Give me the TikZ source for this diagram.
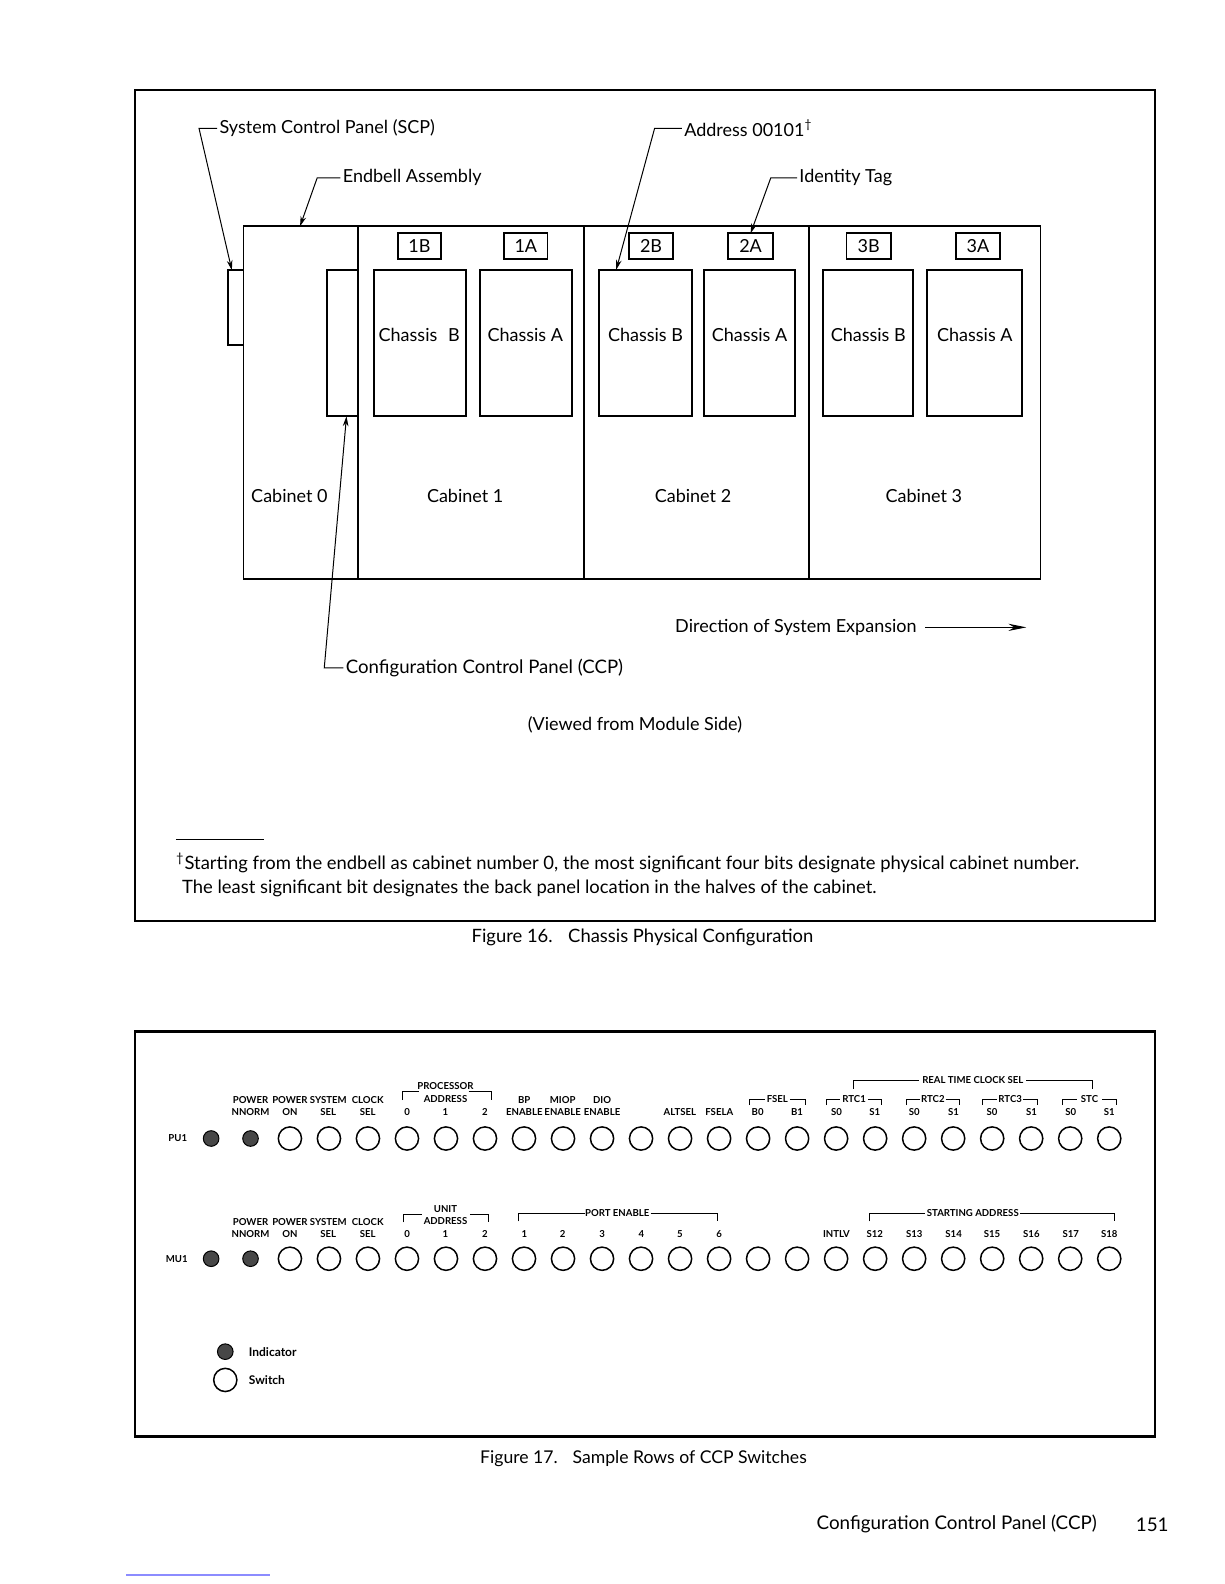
\documentclass[tikz,border=0pt]{standalone}
\usepackage{fontspec}
\setmainfont{Lato}
\usetikzlibrary{arrows.meta,calc,fit}
\begin{document}
\begin{tikzpicture}[x=0.505pt,y=-0.505pt,
  frame/.style={draw,line width=1.1pt},
  cab/.style={draw,line width=0.9pt,inner sep=0pt,outer sep=0pt},
  lead/.style={line width=0.5pt},
  tipa/.style={-{Stealth[length=5pt,width=2.8pt]}},
  lbl/.style={font=\fontsize{9}{10}\selectfont,inner sep=0pt},
  tag/.style={font=\fontsize{9}{10}\selectfont,inner sep=0pt},
  foot/.style={font=\fontsize{9.2}{10}\selectfont,inner sep=0pt,anchor=base west},
  captext/.style={font=\fontsize{9.2}{11}\selectfont,inner sep=0pt},
  tiny/.style={font=\fontsize{4.8}{5}\selectfont\bfseries,inner sep=0pt},
  legend/.style={font=\fontsize{6}{7}\selectfont\bfseries,inner sep=0pt,anchor=west},
  sw/.style={circle,draw,line width=0.75pt,minimum size=11.6pt,inner sep=0pt},
  ind/.style={circle,draw,fill=black!72,line width=0.5pt,minimum size=7.8pt,inner sep=0pt},
  brk/.style={line width=0.45pt}
]
\useasboundingbox (0,0) rectangle (1212,1568);
\fill[white] (0,0) rectangle (1212,1568);

% ================= Figure 16 =================
\draw[frame] (134,89) rectangle (1143,912);

% cabinets
\node[cab,fit={(241,224) (354,573)}] (cab0) {};
\node[cab,fit={(354,224) (578,573)}] (cab1) {};
\node[cab,fit={(578,224) (801,573)}] (cab2) {};
\node[cab,fit={(801,224) (1030,573)}] (cab3) {};
% SCP and CCP boxes
\node[cab,fit={(225.5,267.5) (241,341.5)}] (scp) {};
\node[cab,fit={(324,267.5) (354,412)}] (ccp) {};
% chassis
\node[cab,fit={(370,267) (461,412)}] (ch1b) {};
\node[cab,fit={(475,267) (566.5,412)}] (ch1a) {};
\node[cab,fit={(593,267) (685,412)}] (ch2b) {};
\node[cab,fit={(697,267) (787,412)}] (ch2a) {};
\node[cab,fit={(815,267) (904,412)}] (ch3b) {};
\node[cab,fit={(918,267) (1012,412)}] (ch3a) {};
% tags
\node[cab,fit={(394,231) (436.5,256.5)}] (t1b) {};
\node[cab,fit={(499,231) (542,256.5)}] (t1a) {};
\node[cab,fit={(623,231) (666,256.5)}] (t2b) {};
\node[cab,fit={(721,231) (765,256.5)}] (t2a) {};
\node[cab,fit={(838,231) (882,256.5)}] (t3b) {};
\node[cab,fit={(946,231) (990,256.5)}] (t3a) {};
\node[tag] at (t1b) {1B};
\node[tag] at (t1a) {1A};
\node[tag] at (t2b) {2B};
\node[tag] at (t2a) {2A};
\node[tag] at (t3b) {3B};
\node[tag] at (t3a) {3A};

\node[lbl] (lch1b) at (415,332) {Chassis\hspace{0.6em}B};
\node[lbl] (lch1a) at (520,332) {Chassis A};
\node[lbl] (lch2b) at (639,332) {Chassis B};
\node[lbl] (lch2a) at (742,332) {Chassis A};
\node[lbl] (lch3b) at (859.5,332) {Chassis B};
\node[lbl] (lch3a) at (965,332) {Chassis A};

\node[lbl] (lcab0) at (286.5,491) {Cabinet 0};
\node[lbl] (lcab1) at (460.5,491) {Cabinet 1};
\node[lbl] (lcab2) at (686,491) {Cabinet 2};
\node[lbl] (lcab3) at (914.5,491) {Cabinet 3};

% leaders
\node[lbl,anchor=west] (lscp) at (217,127) {System Control Panel (SCP)};
\coordinate (cscp) at (197,127);
\draw[lead,tipa] ($(lscp.west)+(-2,0)$) -- (cscp) -- ($(scp.north west)+(4,0)$);

\node[lbl,anchor=west] (lend) at (339,176) {Endbell Assembly};
\coordinate (cend) at (314,176);
\draw[lead,tipa] ($(lend.west)+(-2,0)$) -- (cend) -- (297,224);

\node[lbl,anchor=west] (ladr) at (677,127) {Address 00101\textsuperscript{†}};
\coordinate (cadr) at (648,127);
\draw[lead,tipa] ($(ladr.west)+(-2,0)$) -- (cadr) -- ($(ch2b.north west)+(17,0)$);

\node[lbl,anchor=west] (lid) at (791,176) {Identity Tag};
\coordinate (cid) at (763,176);
\draw[lead,tipa] ($(lid.west)+(-2,0)$) -- (cid) -- (t2a.north);

\node[lbl,anchor=west,font=\fontsize{9.3}{10}\selectfont] (lccp) at (342,661) {Configuration Control Panel (CCP)};
\coordinate (cccp) at (321,661);
\draw[lead,tipa] ($(lccp.west)+(-2,0)$) -- (cccp) -- ($(ccp.south east)+(-11,0)$);

\node[lbl,anchor=west] (ldir) at (668,621) {Direction of System Expansion};
\coordinate (dirend) at (1016,621);
\draw[lead,-{Stealth[length=9pt,width=3.6pt]}] ($(ldir.east)+(8,0)$) -- (dirend);

\node[lbl] (lview) at (628.5,718) {(Viewed from Module Side)};

% footnote
\draw[line width=0.5pt] (174,831) -- (261,831);
\node[foot] (fn1) at (174,861) {\textsuperscript{†}Starting from the endbell as cabinet number 0, the most significant four bits designate physical cabinet number.};
\node[foot] (fn2) at (180,884) {The least significant bit designates the back panel location in the halves of the cabinet.};

\node[captext] (cap16) at (636,928) {Figure 16.\hspace{0.5em} Chassis Physical Configuration};

% ================= Figure 17 =================
\draw[frame] (134,1021) rectangle (1143,1422);

\node[tiny] (pu1) at (176,1127) {PU1};
\node[tiny] (mu1) at (175,1246) {MU1};

\foreach \r/\y in {1/1127,2/1246}{
  \node[ind] (r\r i0) at (209,\y) {};
  \node[ind] (r\r i1) at (248,\y) {};
  \foreach \i in {0,...,21}{
    \node[sw] (r\r s\i) at ({287+\i*38.62},\y) {};
  }
}

% row 1 labels
\foreach \x/\a/\b in {248/POWER/NNORM,287/POWER/ON,325/SYSTEM/SEL,364/CLOCK/SEL,519/BP/ENABLE,557/MIOP/ENABLE,596/DIO/ENABLE}{
  \node[tiny] at (\x,1089) {\a};
  \node[tiny] at (\x,1101) {\b};
}
\foreach \x/\a in {403/0,441/1,480/2,673/ALTSEL,712/FSELA,750/B0,789/B1,828/S0,866/S1,905/S0,944/S1,982/S0,1021/S1,1060/S0,1098/S1}{
  \node[tiny] at (\x,1101) {\a};
}
% row 1 brackets
\draw[brk] (398,1089) |- (415,1080);
\draw[brk] (464,1080) -| (486,1089);
\node[tiny] (proc) at (441,1075) {PROCESSOR};
\node[tiny] (padr) at (441,1088) {ADDRESS};
\foreach \xa/\xb/\ga/\gb/\t in {742/797/757/782/FSEL,818/873/832/859/RTC1,897/950/911/936/RTC2,973/1027/987/1013/RTC3,1052/1105/1066/1091/STC}{
  \draw[brk] (\xa,1094) |- (\ga,1088);
  \draw[brk] (\gb,1088) -| (\xb,1094);
  \node[tiny] at ({(\ga+\gb)/2},1088) {\t};
}
\draw[brk] (845,1078) |- (910,1070);
\draw[brk] (1016,1070) -| (1081,1078);
\node[tiny] (rtcs) at (963,1069) {REAL TIME CLOCK SEL};

% row 2 labels
\foreach \x/\a/\b in {248/POWER/NNORM,287/POWER/ON,325/SYSTEM/SEL,364/CLOCK/SEL}{
  \node[tiny] at (\x,1210) {\a};
  \node[tiny] at (\x,1222) {\b};
}
\foreach \x/\a in {403/0,441/1,480/2,519/1,557/2,596/3,635/4,673/5,712/6,828/INTLV,866/S12,905/S13,944/S14,982/S15,1021/S16,1060/S17,1098/S18}{
  \node[tiny] at (\x,1222) {\a};
}
\draw[brk] (399,1210) |- (418,1202);
\draw[brk] (465,1202) -| (484,1210);
\node[tiny] (unit) at (441,1197) {UNIT};
\node[tiny] (uadr) at (441,1209) {ADDRESS};
\draw[brk] (513,1209) |- (579,1201);
\draw[brk] (644,1201) -| (710,1209);
\node[tiny] (port) at (611,1201) {PORT ENABLE};
\draw[brk] (861,1209) |- (916,1201);
\draw[brk] (1010,1201) -| (1103,1209);
\node[tiny] (start) at (963,1201) {STARTING ADDRESS};

% legend
\node[ind] (legi) at (223,1338) {};
\node[sw] (legs) at (223,1366) {};
\node[legend] (legit) at (246,1338) {Indicator};
\node[legend] (legst) at (246,1366) {Switch};

\node[captext,font=\fontsize{8.8}{11}\selectfont] (cap17) at (637,1444) {Figure 17.\hspace{0.5em} Sample Rows of CCP Switches};

% page footer
\node[captext,anchor=west,font=\fontsize{9.4}{11}\selectfont] (ftr) at (808,1509) {Configuration Control Panel (CCP)};
\node[captext,anchor=west,font=\fontsize{9.4}{11}\selectfont] (pg) at (1124,1509) {151};
\draw[line width=0.6pt,blue!45] (125,1559) -- (267,1559);
\end{tikzpicture}
\end{document}
